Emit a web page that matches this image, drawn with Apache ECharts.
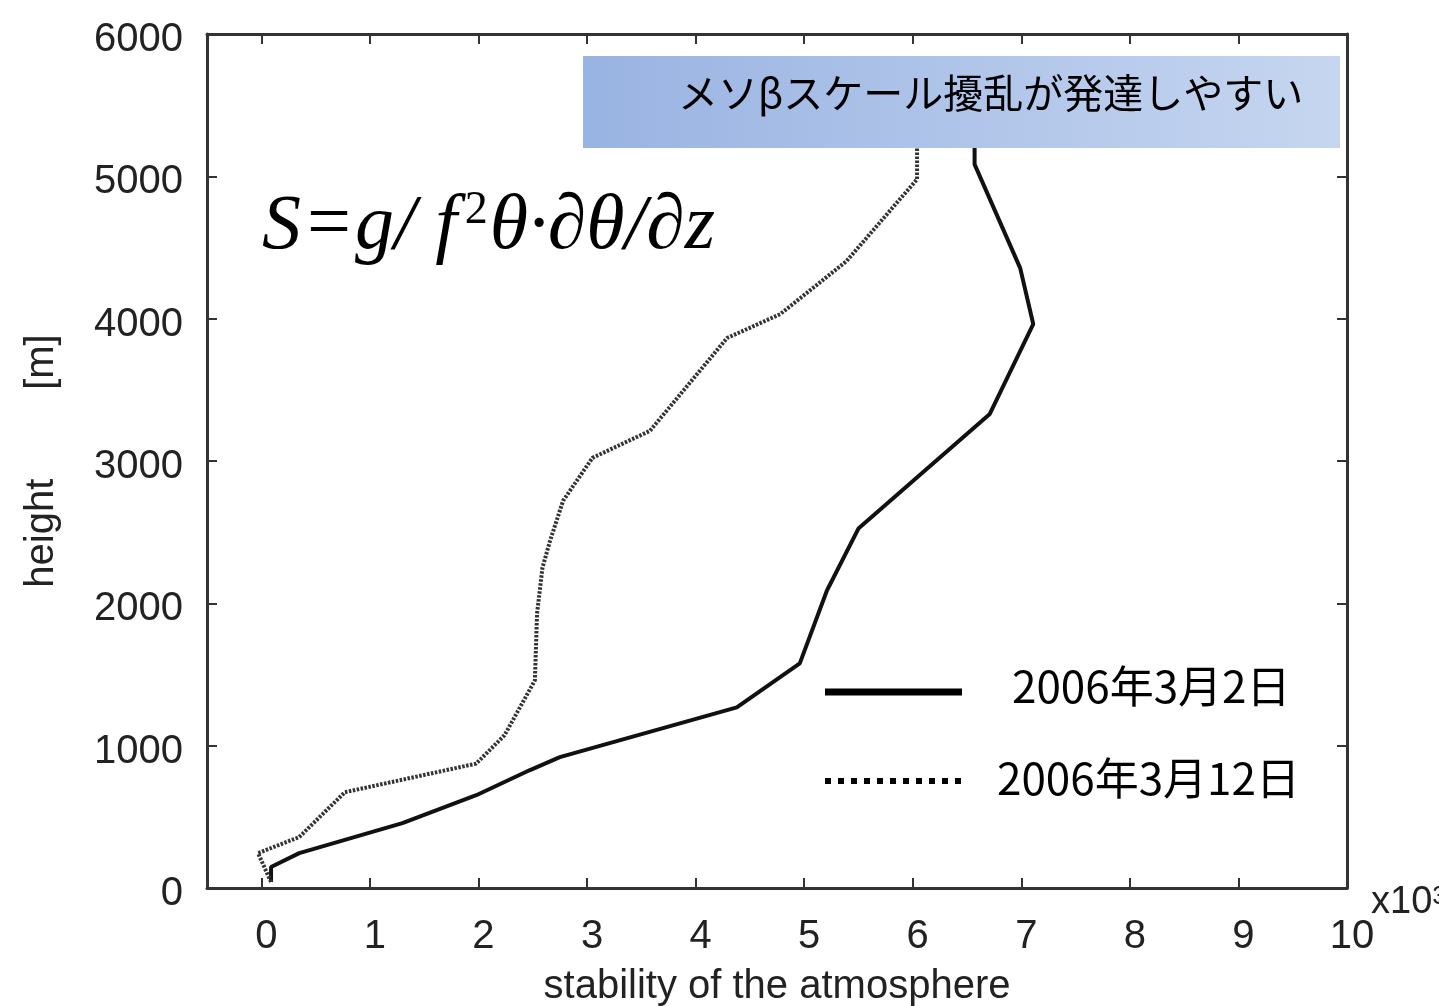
<!DOCTYPE html>
<html><head><meta charset="utf-8">
<script src="https://cdn.jsdelivr.net/npm/echarts@6/dist/echarts.min.js"></script>
<style>html,body{margin:0;padding:0;background:#fff}#c{width:1439px;height:1006px}</style>
</head><body><div id="c"></div>
<script>
// tick values
const xTicks = [0,1,2,3,4,5,6,7,8,9,10];
const yTicks = [0,1000,2000,3000,4000,5000,6000];
// 2006年3月2日 (solid)
const solidStability = [0.09,0.09,0.35,1.30,1.98,2.47,2.75,4.38,4.96,5.21,5.50,6.71,7.11,6.99,6.57,6.57];
const solidHeight    = [42,147,245,456,652,827,919,1269,1578,2090,2525,3331,3962,4355,5084,5600];
// 2006年3月12日 (dotted)
const dottedStability = [0.09,-0.03,0.35,0.77,1.98,2.24,2.52,2.54,2.59,2.66,2.78,3.05,3.58,4.29,4.78,5.39,6.04,6.04];
const dottedHeight    = [42,245,358,673,874,1073,1459,1928,2251,2440,2721,3022,3212,3864,4032,4404,4979,5600];
const legendLabels = ['2006年3月2日','2006年3月12日'];
const boxText = 'メソβスケール擾乱が発達しやすい';

const solidData = solidStability.map((v,i)=>[v, solidHeight[i]]);
const dottedData = dottedStability.map((v,i)=>[v, dottedHeight[i]]);

const axisCol = '#333';
const font = 'Liberation Sans, Arial, sans-serif';
const chart = echarts.init(document.getElementById('c'));
const lineAxis = {show:true, onZero:false, lineStyle:{color:axisCol, width:3}};
chart.setOption({
  backgroundColor:'#fff',
  animation:false,
  grid:{left:207, top:34, width:1140, height:854, outerBoundsMode:'none', containLabel:false},
  xAxis:[
    {type:'value', position:'bottom', min:-0.5, max:10,
     axisLine:lineAxis,
     axisTick:{show:true, inside:true, length:10, customValues:xTicks, lineStyle:{color:axisCol,width:2}},
     axisLabel:{customValues:xTicks, fontSize:40, fontFamily:font, color:'#222', margin:29, padding:[0,0,0,10]},
     splitLine:{show:false},
     name:'stability of the atmosphere', nameLocation:'middle', nameGap:79,
     nameTextStyle:{fontSize:40, fontFamily:font, color:'#222'}},
    {type:'value', position:'top', min:-0.5, max:10,
     axisLine:lineAxis,
     axisTick:{show:true, inside:true, length:10, customValues:xTicks, lineStyle:{color:axisCol,width:2}},
     axisLabel:{show:false}, splitLine:{show:false}}
  ],
  yAxis:[
    {type:'value', position:'left', min:0, max:6000, interval:1000,
     axisLine:lineAxis,
     axisTick:{show:true, inside:true, length:10, lineStyle:{color:axisCol,width:2}},
     axisLabel:{fontSize:40, fontFamily:font, color:'#222', margin:24, verticalAlign:'top', lineHeight:12,
                formatter:v=>String(v)},
     splitLine:{show:false},
     name:'height        [m]', nameLocation:'middle', nameGap:145,
     nameTextStyle:{fontSize:40, fontFamily:font, color:'#222'}},
    {type:'value', position:'right', min:0, max:6000, interval:1000,
     axisLine:lineAxis,
     axisTick:{show:true, inside:true, length:10, lineStyle:{color:axisCol,width:2}},
     axisLabel:{show:false}, splitLine:{show:false}}
  ],
  series:[
    {name:legendLabels[0], type:'line', data:solidData, showSymbol:false, symbol:'none',
     lineStyle:{color:'#111', width:4}, z:3},
    {name:legendLabels[1], type:'line', data:dottedData, showSymbol:false, symbol:'none',
     lineStyle:{color:'#333', width:4, type:[2.5,1.5]}, z:3}
  ],
  graphic:[
    {type:'rect', z:100, shape:{x:583, y:56, width:757, height:92},
     style:{fill:new echarts.graphic.LinearGradient(0,0,1,0,[{offset:0,color:'#99b3e2'},{offset:1,color:'#c6d6f0'}])}},
    {type:'text', z:101, style:{x:678, y:93, text:boxText, fontSize:40, fontFamily:'Noto Sans CJK JP', fill:'#000', verticalAlign:'middle'}},
    {type:'text', z:101, style:{x:262, y:188,
      text:'{a|S}{b|=}{a|g/ f}{s|2}{a|θ·∂θ/∂z}',
      rich:{
        a:{fontFamily:'Liberation Serif', fontStyle:'italic', fontSize:78, fill:'#000'},
        b:{fontFamily:'Liberation Serif', fontSize:78, fill:'#000', padding:[0,4,0,6]},
        s:{fontFamily:'Liberation Serif', fontSize:46, fill:'#000', verticalAlign:'top', padding:[0,2,0,8]}
      }}},
    {type:'line', z:101, shape:{x1:825, y1:692, x2:962, y2:692}, style:{stroke:'#000', lineWidth:7}},
    {type:'line', z:101, shape:{x1:825, y1:781, x2:962, y2:781}, style:{stroke:'#000', lineWidth:6, lineDash:[6,7]}},
    {type:'text', z:101, style:{x:1012, y:686, text:legendLabels[0], fontSize:44, fontFamily:'Noto Sans CJK JP', fill:'#000', verticalAlign:'middle'}},
    {type:'text', z:101, style:{x:997, y:778, text:legendLabels[1], fontSize:44, fontFamily:'Noto Sans CJK JP', fill:'#000', verticalAlign:'middle'}},
    {type:'text', z:101, style:{x:1371, y:884,
      text:'{a|x10}{s|3}',
      rich:{a:{fontSize:38, fontFamily:font, fill:'#222'}, s:{fontSize:26, fontFamily:font, fill:'#222', verticalAlign:'top'}}}}
  ]
});
</script></body></html>
